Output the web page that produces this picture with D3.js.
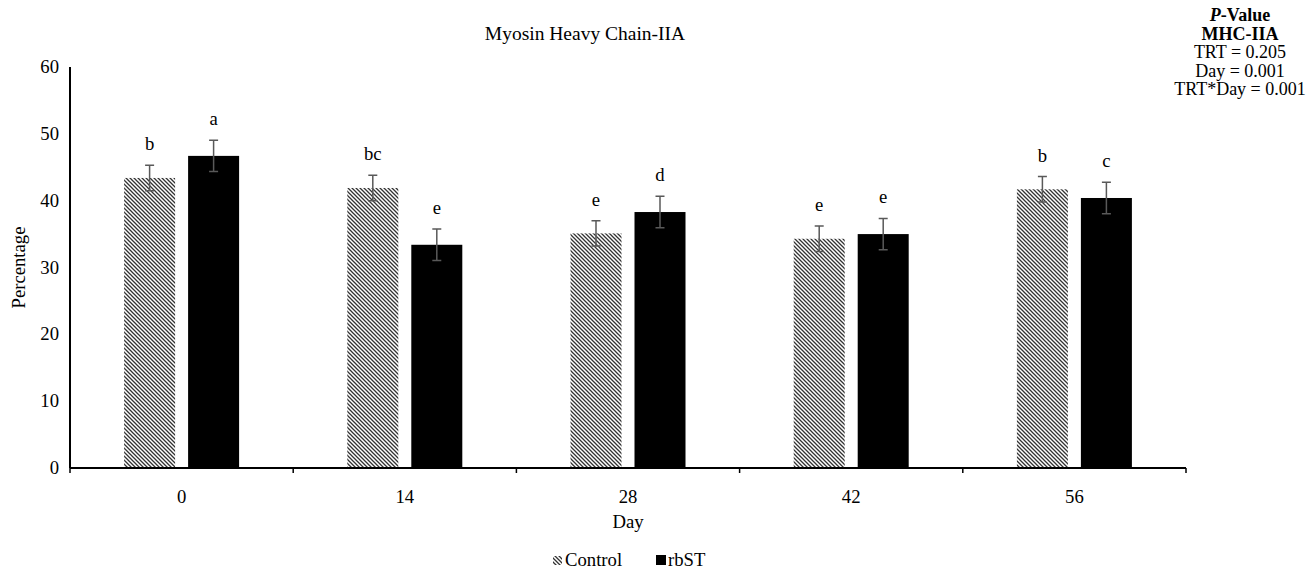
<!DOCTYPE html>
<html>
<head>
<meta charset="utf-8">
<script src="https://cdn.jsdelivr.net/npm/d3@7"></script>
<style>
  body { margin: 0; background: #fff; }
  text { font-family: "Liberation Serif", "Times New Roman", serif; fill: #000; }
</style>
</head>
<body>
<svg id="chart" width="1311" height="571"></svg>
<script>
const days = ["0", "14", "28", "42", "56"];
const controlMean = [43.4, 41.9, 35.1, 34.3, 41.7];
const controlSE = [1.9, 1.9, 1.9, 1.9, 1.9];
const rbstMean = [46.7, 33.4, 38.3, 35.0, 40.4];
const rbstSE = [2.35, 2.35, 2.35, 2.35, 2.35];
const controlLetters = ["b", "bc", "e", "e", "b"];
const rbstLetters = ["a", "e", "d", "e", "c"];
const yTicks = [0, 10, 20, 30, 40, 50, 60];
const pValueLines = ["TRT = 0.205", "Day = 0.001", "TRT*Day = 0.001"];

const svg = d3.select("#chart");
const margin = { left: 70, right: 125, top: 67, bottom: 103 };
const width = 1311, height = 571;
const fs = "18.7px";

const defs = svg.append("defs");
const pat = defs.append("pattern")
  .attr("id", "hatch")
  .attr("patternUnits", "userSpaceOnUse")
  .attr("width", 4).attr("height", 4);
pat.append("rect").attr("width", 4).attr("height", 4).attr("fill", "#fff");
pat.append("path")
  .attr("d", "M-1,-1 L5,5 M3,-1 L5,1 M-1,3 L1,5")
  .attr("stroke", "#333").attr("stroke-width", 1.3);

const x = d3.scaleBand()
  .domain(days)
  .range([margin.left, width - margin.right]);

const y = d3.scaleLinear()
  .domain([0, 60])
  .range([height - margin.bottom, margin.top]);

const series = [
  { key: "Control", mean: controlMean, se: controlSE, letters: controlLetters, fill: "url(#hatch)", offset: -1 },
  { key: "rbST", mean: rbstMean, se: rbstSE, letters: rbstLetters, fill: "#000", offset: 1 }
];

const barW = 51, gap = 13;

series.forEach((s) => {
  const g = svg.append("g");
  days.forEach((d, i) => {
    const cx = x(d) + x.bandwidth() / 2 + s.offset * (barW + gap) / 2;
    g.append("rect")
      .attr("x", cx - barW / 2)
      .attr("y", y(s.mean[i]))
      .attr("width", barW)
      .attr("height", y(0) - y(s.mean[i]))
      .attr("fill", s.fill);
    const top = y(s.mean[i] + s.se[i]);
    const bot = y(s.mean[i] - s.se[i]);
    g.append("path")
      .attr("d", `M${cx},${top}V${bot}M${cx - 4.5},${top}H${cx + 4.5}M${cx - 4.5},${bot}H${cx + 4.5}`)
      .attr("stroke", "#595959")
      .attr("stroke-width", 1.5)
      .attr("fill", "none");
    g.append("text")
      .attr("x", cx)
      .attr("y", top - 15)
      .attr("text-anchor", "middle")
      .style("font-size", fs)
      .text(s.letters[i]);
  });
});

// y axis
svg.append("line")
  .attr("x1", margin.left).attr("x2", margin.left)
  .attr("y1", y(60)).attr("y2", y(0))
  .attr("stroke", "#000").attr("stroke-width", 2);
svg.append("g").selectAll("text")
  .data(yTicks)
  .join("text")
  .attr("x", margin.left - 11)
  .attr("y", (d) => y(d) + 6)
  .attr("text-anchor", "end")
  .style("font-size", fs)
  .text((d) => d);

// x axis
svg.append("line")
  .attr("x1", margin.left).attr("x2", width - margin.right)
  .attr("y1", y(0)).attr("y2", y(0))
  .attr("stroke", "#000").attr("stroke-width", 2);
const bounds = days.map((d) => x(d)).concat([x(days[days.length - 1]) + x.bandwidth()]);
svg.append("g").selectAll("line")
  .data(bounds)
  .join("line")
  .attr("x1", (d) => d).attr("x2", (d) => d)
  .attr("y1", y(0)).attr("y2", y(0) + 5)
  .attr("stroke", "#000").attr("stroke-width", 1.5);
svg.append("g").selectAll("text")
  .data(days)
  .join("text")
  .attr("x", (d) => x(d) + x.bandwidth() / 2)
  .attr("y", y(0) + 35)
  .attr("text-anchor", "middle")
  .style("font-size", fs)
  .text((d) => d);

// axis titles
svg.append("text")
  .attr("x", (margin.left + width - margin.right) / 2)
  .attr("y", y(0) + 60)
  .attr("text-anchor", "middle")
  .style("font-size", fs)
  .text("Day");
svg.append("text")
  .attr("transform", `translate(25,${(y(0) + y(60)) / 2}) rotate(-90)`)
  .attr("text-anchor", "middle")
  .style("font-size", fs)
  .text("Percentage");

// title
svg.append("text")
  .attr("x", 585)
  .attr("y", 40)
  .attr("text-anchor", "middle")
  .style("font-size", "19.5px")
  .text("Myosin Heavy Chain-IIA");

// p-value block
const pv = svg.append("g").attr("transform", "translate(1240,0)");
const t1 = pv.append("text").attr("y", 21).attr("text-anchor", "middle")
  .style("font-size", "18px").style("font-weight", "bold");
t1.append("tspan").style("font-style", "italic").text("P");
t1.append("tspan").text("-Value");
pv.append("text").attr("y", 39.5).attr("text-anchor", "middle")
  .style("font-size", "18px").style("font-weight", "bold").text("MHC-IIA");
pv.selectAll("text.pl")
  .data(pValueLines)
  .join("text")
  .attr("class", "pl")
  .attr("y", (d, i) => 58 + i * 18.5)
  .attr("text-anchor", "middle")
  .style("font-size", "18px")
  .text((d) => d);

// legend
const leg = svg.append("g").attr("transform", "translate(553,566)");
leg.append("rect").attr("x", 0).attr("y", -10).attr("width", 9).attr("height", 9)
  .attr("fill", "url(#hatch)");
leg.append("text").attr("x", 12).attr("y", 0).style("font-size", fs).text("Control");
leg.append("rect").attr("x", 103).attr("y", -11).attr("width", 10).attr("height", 10)
  .attr("fill", "#000");
leg.append("text").attr("x", 115).attr("y", 0).style("font-size", fs).text("rbST");
</script>
</body>
</html>
